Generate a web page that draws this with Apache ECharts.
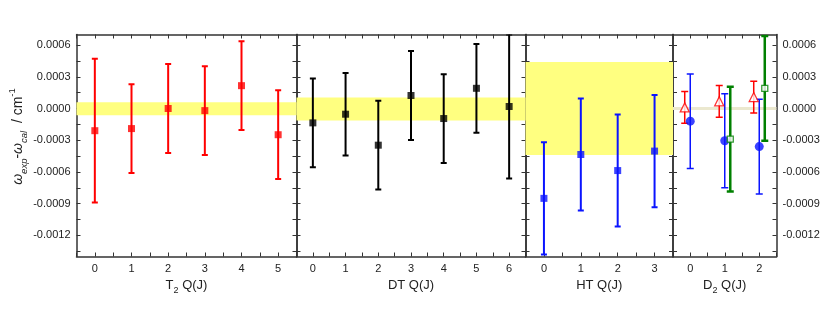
<!DOCTYPE html>
<html><head><meta charset="utf-8">
<script src="https://cdn.jsdelivr.net/npm/echarts@6/dist/echarts.min.js"></script>
<style>html,body{margin:0;padding:0;background:#fff}#c{width:830px;height:309px}</style>
</head><body><div id="c"></div>
<script>
// ---- data ----
const t2J = [0, 1, 2, 3, 4, 5];
const t2Val = [-0.00021, -0.00019, 0.0, -0.00002, 0.000216, -0.000248];
const t2Err = [0.00068, 0.00042, 0.00042, 0.00042, 0.00042, 0.00042];
const t2Band = [-0.000065, 0.00006];

const dtJ = [0, 1, 2, 3, 4, 5, 6];
const dtVal = [-0.000136, -0.000054, -0.000347, 0.000123, -0.000095, 0.000191, 0.000019];
const dtErr = [0.00042, 0.00039, 0.00042, 0.00042, 0.00042, 0.00042, 0.00068];
const dtBand = [-0.000114, 0.000104];

const htJ = [0, 1, 2, 3];
const htVal = [-0.00085, -0.000435, -0.000587, -0.000403];
const htErr = [0.00053, 0.00053, 0.00053, 0.00053];
const htBand = [-0.00044, 0.00044];

const d2J = [0, 1, 2];
const d2RedVal = [0.000011, 0.000068, 0.000108];
const d2RedErr = [0.00015, 0.00015, 0.00015];
const d2BlueVal = [-0.00012, -0.000305, -0.00036];
const d2BlueErr = [0.000447, 0.000445, 0.000448];
const d2GreenJ = [1, 2];
const d2GreenVal = [-0.00029, 0.00019];
const d2GreenErr = [0.000495, 0.000495];
const d2Band = [-0.000015, 0.000015];

const yMajor = [0.0006, 0.0003, 0.0, -0.0003, -0.0006, -0.0009, -0.0012];
const yTicks = [0.0006, 0.00045, 0.0003, 0.00015, 0.0, -0.00015, -0.0003, -0.00045, -0.0006,
  -0.00075, -0.0009, -0.00105, -0.0012, -0.00135];
const yMin = -0.0014, yMax = 0.0007;

// ---- styling ----
const FONT = 'Liberation Sans, Arial, sans-serif';
const AX = '#333';
const TXT = '#222';
const redOff = -0.16, greenOff = 0.16;

const grids = [
  {left: 76.5, width: 220, xmax: 5.5},
  {left: 296.5, width: 229, xmax: 6.5},
  {left: 525.5, width: 147.5, xmax: 3.5},
  {left: 673, width: 103.5, xmax: 2.5}
];
const xNames = [
  '{m|T}{s|2}{m| Q(J)}', '{m|DT Q(J)}', '{m|HT Q(J)}', '{m|D}{s|2}{m| Q(J)}'
];

const grid = grids.map(g => ({left: g.left, width: g.width, top: 34.5, height: 222, containLabel: false}));
const xAxis = [], yAxis = [];
grids.forEach((g, i) => {
  const base = {
    type: 'value', gridIndex: i, min: -0.5, max: g.xmax, interval: 0.5,
    splitLine: {show: false},
    axisLine: {show: true, onZero: false, lineStyle: {color: AX, width: 1.5}},
    axisTick: {show: true, inside: true, length: 4, lineStyle: {color: AX, width: 1}}
  };
  xAxis.push(Object.assign({}, base, {
    position: 'bottom',
    axisLabel: {show: true, color: TXT, fontFamily: FONT, fontSize: 11, margin: 7,
      formatter: v => Math.abs(v - Math.round(v)) < 1e-9 ? String(Math.round(v)) : ''},
    name: xNames[i], nameLocation: 'middle', nameGap: 20,
    nameTextStyle: {rich: {
      m: {fontFamily: FONT, fontSize: 13, color: TXT, lineHeight: 18},
      s: {fontFamily: FONT, fontSize: 9, color: TXT, verticalAlign: 'bottom', lineHeight: 11}
    }}
  }));
  xAxis.push(Object.assign({}, base, {position: 'top', axisLabel: {show: false}}));
  const ybase = {
    type: 'value', gridIndex: i, min: yMin, max: yMax,
    splitLine: {show: false},
    axisLine: {show: true, onZero: false, lineStyle: {color: AX, width: 1.5}},
    axisTick: {show: true, inside: true, length: 4, customValues: yTicks, lineStyle: {color: AX, width: 1}}
  };
  yAxis.push(Object.assign({}, ybase, {
    position: 'left',
    axisLabel: {show: i === 0, color: TXT, fontFamily: FONT, fontSize: 11, margin: 6,
      customValues: yMajor, formatter: v => (Math.abs(v) < 1e-12 ? 0 : v).toFixed(4)},
    name: i === 0 ? '{w|ω}{s|exp}{n|-}{w|ω}{s|cal}{n|  / cm}{p|-1}' : '',
    nameLocation: 'middle', nameRotate: 90, nameGap: 37,
    nameTextStyle: {padding: [0, 0, 0, 18], rich: {
      w: {fontFamily: FONT, fontSize: 14, fontStyle: 'italic', color: TXT, lineHeight: 22},
      n: {fontFamily: FONT, fontSize: 14, color: TXT, lineHeight: 22},
      s: {fontFamily: FONT, fontSize: 9.5, fontStyle: 'italic', color: TXT, verticalAlign: 'bottom', lineHeight: 11},
      p: {fontFamily: FONT, fontSize: 9.5, color: TXT, verticalAlign: 'top', lineHeight: 11}
    }}
  }));
  yAxis.push(Object.assign({}, ybase, {
    position: 'right',
    axisLabel: {show: i === 3, color: TXT, fontFamily: FONT, fontSize: 11, margin: 6,
      customValues: yMajor, formatter: v => (Math.abs(v) < 1e-12 ? 0 : v).toFixed(4)}
  }));
});

function bandSeries(i, band, color) {
  return {
    type: 'custom', xAxisIndex: 2 * i, yAxisIndex: 2 * i, z: 1, silent: true, clip: true,
    data: [[band[0], band[1]]],
    renderItem: (params, api) => {
      const cs = params.coordSys;
      const yTop = api.coord([0, api.value(1)])[1];
      const yBot = api.coord([0, api.value(0)])[1];
      return {type: 'rect', shape: {x: cs.x, y: yTop, width: cs.width, height: yBot - yTop},
        style: {fill: color}};
    }
  };
}
function errSeries(i, xs, vals, errs, color, lw, cap, off) {
  return {
    type: 'custom', xAxisIndex: 2 * i, yAxisIndex: 2 * i, z: 2, silent: true, clip: true,
    data: xs.map((x, k) => [x + (off || 0), vals[k], errs[k]]),
    renderItem: (params, api) => {
      const x = api.value(0), y = api.value(1), e = api.value(2);
      const t = api.coord([x, y + e]), b = api.coord([x, y - e]);
      const st = {stroke: color, lineWidth: lw};
      return {type: 'group', children: [
        {type: 'line', shape: {x1: t[0], y1: t[1], x2: b[0], y2: b[1]}, style: st},
        {type: 'line', shape: {x1: t[0] - cap, y1: t[1], x2: t[0] + cap, y2: t[1]}, style: st},
        {type: 'line', shape: {x1: b[0] - cap, y1: b[1], x2: b[0] + cap, y2: b[1]}, style: st}
      ]};
    }
  };
}
function markSeries(i, xs, vals, symbol, size, itemStyle, off) {
  return {
    type: 'scatter', xAxisIndex: 2 * i, yAxisIndex: 2 * i, z: 3, silent: true, clip: true,
    symbol: symbol, symbolSize: size, itemStyle: itemStyle,
    data: xs.map((x, k) => [x + (off || 0), vals[k]])
  };
}

const RED = '#ff0000', BLACK = '#000000', BLUE = '#0a14ff', GREEN = '#008000';
const YEL = '#ffff80';
const series = [
  bandSeries(0, t2Band, YEL),
  errSeries(0, t2J, t2Val, t2Err, RED, 2, 3),
  markSeries(0, t2J, t2Val, 'rect', 7, {color: RED}),
  bandSeries(1, dtBand, YEL),
  errSeries(1, dtJ, dtVal, dtErr, BLACK, 2, 3),
  markSeries(1, dtJ, dtVal, 'rect', 7, {color: BLACK}),
  bandSeries(2, htBand, YEL),
  errSeries(2, htJ, htVal, htErr, BLUE, 2, 3),
  markSeries(2, htJ, htVal, 'rect', 7, {color: BLUE}),
  bandSeries(3, d2Band, '#ebe8cf'),
  errSeries(3, d2J, d2RedVal, d2RedErr, RED, 1.5, 3.5, redOff),
  markSeries(3, d2J, d2RedVal, 'triangle', 9, {color: '#fff', borderColor: RED, borderWidth: 1.3}, redOff),
  errSeries(3, d2J, d2BlueVal, d2BlueErr, BLUE, 1.5, 3.5),
  markSeries(3, d2J, d2BlueVal, 'circle', 9, {color: BLUE}),
  errSeries(3, d2GreenJ, d2GreenVal, d2GreenErr, GREEN, 2.5, 3.5, greenOff),
  markSeries(3, d2GreenJ, d2GreenVal, 'rect', 6, {color: '#fff', borderColor: GREEN, borderWidth: 1.3}, greenOff)
];

const chart = echarts.init(document.getElementById('c'), null, {renderer: 'canvas'});
chart.setOption({animation: false, backgroundColor: '#fff', grid, xAxis, yAxis, series});
</script>
</body></html>
